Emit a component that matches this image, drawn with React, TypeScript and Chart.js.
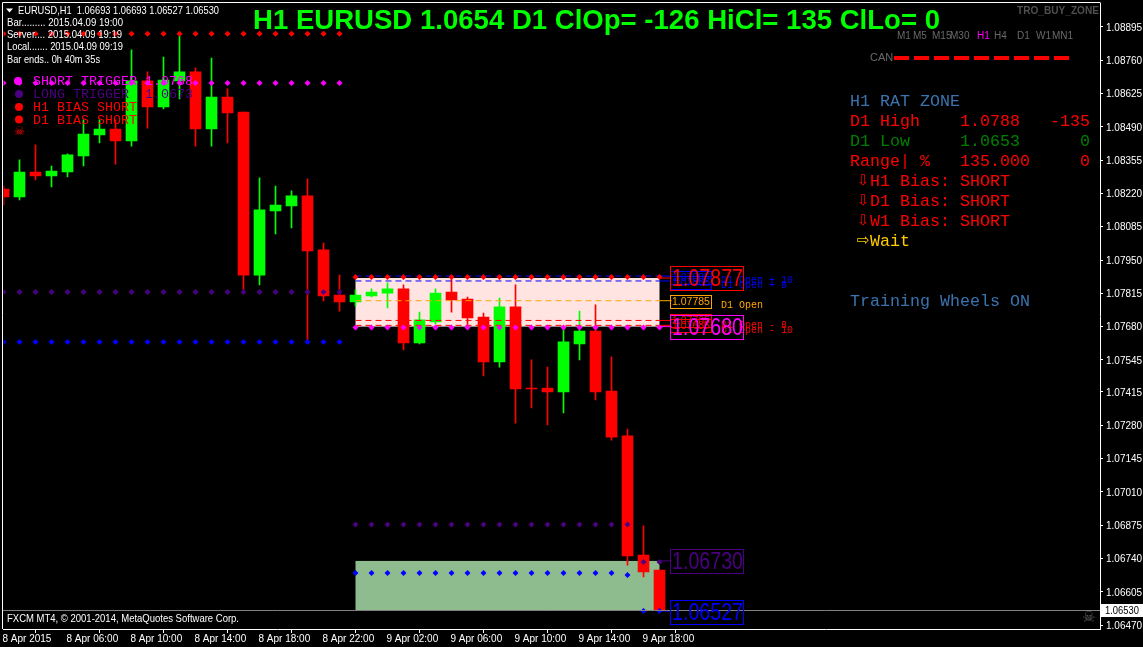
import React, { useEffect, useRef } from "react";
import { Chart, registerables } from "chart.js";

Chart.register(...registerables);

const opens = [1.08238,1.08206,1.08307,1.08291,1.08307,1.08372,1.08457,1.08481,1.08433,1.08676,1.08571,1.08676,1.08713,1.08481,1.08611,1.08550,1.07889,1.08149,1.08169,1.08210,1.07991,1.07808,1.07780,1.07804,1.07816,1.07833,1.07614,1.07699,1.07820,1.07792,1.07719,1.07537,1.07760,1.07431,1.07431,1.07415,1.07610,1.07662,1.07419,1.07237,1.06754,1.06693];
const highs = [1.08250,1.08356,1.08417,1.08331,1.08380,1.08518,1.08518,1.08518,1.08802,1.08713,1.08773,1.08859,1.08729,1.08769,1.08644,1.08550,1.08283,1.08250,1.08230,1.08279,1.08019,1.07889,1.07829,1.07833,1.07857,1.07849,1.07739,1.07833,1.07877,1.07800,1.07735,1.07796,1.07849,1.07545,1.07516,1.07674,1.07743,1.07768,1.07557,1.07265,1.06872,1.06693];
const lows = [1.08173,1.08194,1.08275,1.08246,1.08287,1.08331,1.08425,1.08339,1.08412,1.08485,1.08563,1.08603,1.08412,1.08412,1.08425,1.07829,1.07849,1.08056,1.08080,1.07626,1.07784,1.07743,1.07764,1.07800,1.07756,1.07585,1.07610,1.07691,1.07739,1.07674,1.07480,1.07516,1.07289,1.07350,1.07281,1.07330,1.07545,1.07383,1.07220,1.06713,1.06665,1.06527];
const closes = [1.08206,1.08307,1.08291,1.08311,1.08376,1.08461,1.08481,1.08433,1.08676,1.08571,1.08680,1.08713,1.08481,1.08611,1.08546,1.07889,1.08153,1.08173,1.08210,1.07987,1.07804,1.07780,1.07808,1.07820,1.07833,1.07614,1.07707,1.07816,1.07788,1.07715,1.07537,1.07760,1.07427,1.07427,1.07415,1.07618,1.07662,1.07415,1.07232,1.06750,1.06685,1.06530];

const redDots = [1.08867,1.08867,1.08867,1.08867,1.08867,1.08867,1.08867,1.08867,1.08867,1.08867,1.08867,1.08867,1.08867,1.08867,1.08867,1.08867,1.08867,1.08867,1.08867,1.08867,1.08867,1.08867,1.07881,1.07881,1.07881,1.07881,1.07881,1.07881,1.07881,1.07881,1.07881,1.07881,1.07881,1.07881,1.07881,1.07881,1.07881,1.07881,1.07881,1.07881,1.07881,1.07881];
const magentaDots = [1.08668,1.08668,1.08668,1.08668,1.08668,1.08668,1.08668,1.08668,1.08668,1.08668,1.08668,1.08668,1.08668,1.08668,1.08668,1.08668,1.08668,1.08668,1.08668,1.08668,1.08668,1.08668,1.07676,1.07676,1.07676,1.07676,1.07676,1.07676,1.07676,1.07676,1.07676,1.07676,1.07676,1.07676,1.07676,1.07676,1.07676,1.07676,1.07676,1.07676,1.07676,1.07676];
const purpleDots = [1.07820,1.07820,1.07820,1.07820,1.07820,1.07820,1.07820,1.07820,1.07820,1.07820,1.07820,1.07820,1.07820,1.07820,1.07820,1.07820,1.07820,1.07820,1.07820,1.07820,1.07820,1.07820,1.06878,1.06878,1.06878,1.06878,1.06878,1.06878,1.06878,1.06878,1.06878,1.06878,1.06878,1.06878,1.06878,1.06878,1.06878,1.06878,1.06878,1.06878,1.06726,1.06726];
const blueDots = [1.07618,1.07618,1.07618,1.07618,1.07618,1.07618,1.07618,1.07618,1.07618,1.07618,1.07618,1.07618,1.07618,1.07618,1.07618,1.07618,1.07618,1.07618,1.07618,1.07618,1.07618,1.07618,1.06681,1.06681,1.06681,1.06681,1.06681,1.06681,1.06681,1.06681,1.06681,1.06681,1.06681,1.06681,1.06681,1.06681,1.06681,1.06681,1.06681,1.06673,1.06527,1.06527];

const yTickValues = [1.08895,1.0876,1.08625,1.0849,1.08355,1.0822,1.08085,1.0795,1.07815,1.0768,1.07545,1.07415,1.0728,1.07145,1.0701,1.06875,1.0674,1.06605,1.0647];
const xTickIndexes = [0,4,8,12,16,20,24,28,32,36,40];
const xTickLabels = ["8 Apr 2015","8 Apr 06:00","8 Apr 10:00","8 Apr 14:00","8 Apr 18:00","8 Apr 22:00","9 Apr 02:00","9 Apr 06:00","9 Apr 10:00","9 Apr 14:00","9 Apr 18:00"];

const zoneLevels = [1.07885,1.07865,1.07785,1.07705,1.07685];
const zoneColors = ["#0000ff","#0000ff","#ffa500","#ff0000","#ff0000"];
const bigLevels = [1.07877,1.0768,1.0673,1.06527];
const bigColors = ["#ff0000","#ff00ff","#4b0082","#0000ff"];
const currentPrice = 1.0653;

const panelRows: [string, string, number, number][] = [
  ["H1 RAT ZONE", "#3a74b0", 850, 102],
  ["D1 High", "#ff0000", 850, 122],
  ["1.0788", "#ff0000", 960, 122],
  ["-135", "#ff0000", 1050, 122],
  ["D1 Low", "#008000", 850, 142],
  ["1.0653", "#008000", 960, 142],
  ["0", "#008000", 1080, 142],
  ["Range| %", "#ff0000", 850, 162],
  ["135.000", "#ff0000", 960, 162],
  ["0", "#ff0000", 1080, 162],
  ["H1 Bias: SHORT", "#ff0000", 870, 182],
  ["D1 Bias: SHORT", "#ff0000", 870, 202],
  ["W1 Bias: SHORT", "#ff0000", 870, 222],
  ["Wait", "#ffcc00", 870, 242],
  ["Training Wheels ON", "#3a74b0", 850, 302],
];
const timeframes: [string, number, string][] = [
  ["M1", 897, "#696969"],["M5", 913, "#696969"],["M15", 932, "#696969"],["M30", 950, "#696969"],
  ["H1", 977, "#ff00ff"],["H4", 994, "#696969"],["D1", 1017, "#696969"],["W1", 1036, "#696969"],["MN1", 1052, "#696969"],
];
const infoRows: [string, number, number][] = [
  ["Bar......... 2015.04.09 19:00", 23, 116],
  ["Server.... 2015.04.09 19:19", 35, 115],
  ["Local....... 2015.04.09 09:19", 47, 116],
  ["Bar ends.. 0h 40m 35s", 60, 93],
];
const legendRows: [string, string, number][] = [
  ["SHORT TRIGGER 1.0768", "#ff00ff", 81],
  ["LONG TRIGGER  1.0673", "#4b0082", 94],
  ["H1 BIAS SHORT", "#ff0000", 107],
  ["D1 BIAS SHORT", "#ff0000", 120],
];

const SANS = '"Liberation Sans"';
const MONO = '"Liberation Mono"';
const GLYPH = '"DejaVu Sans"';

function text(ctx: CanvasRenderingContext2D, s: string, x: number, y: number, font: string, color: string, maxW?: number) {
  ctx.font = font;
  ctx.fillStyle = color;
  ctx.textAlign = "left";
  ctx.textBaseline = "middle";
  if (maxW) ctx.fillText(s, x, y, maxW);
  else ctx.fillText(s, x, y);
}

const backdrop = {
  id: "backdrop",
  beforeDraw(chart: any) {
    const { ctx, width, height } = chart;
    ctx.save();
    ctx.fillStyle = "#000000";
    ctx.fillRect(0, 0, width, height);
    ctx.restore();
  },
  beforeDatasetsDraw(chart: any) {
    const { ctx, scales } = chart;
    const x = scales.x, y = scales.y;
    const l = x.getPixelForValue(22), r = x.getPixelForValue(41);
    ctx.save();
    ctx.fillStyle = "#ffe4e1";
    ctx.fillRect(l, y.getPixelForValue(bigLevels[0]), r - l, y.getPixelForValue(bigLevels[1]) - y.getPixelForValue(bigLevels[0]));
    ctx.fillStyle = "#8fbc8f";
    ctx.fillRect(l, y.getPixelForValue(bigLevels[2]), r - l, y.getPixelForValue(bigLevels[3]) - y.getPixelForValue(bigLevels[2]));
    ctx.restore();
  },
};

const overlay = {
  id: "overlay",
  afterDraw(chart: any) {
    const { ctx, scales, chartArea } = chart;
    const y = scales.y;
    ctx.save();

    // frame
    ctx.strokeStyle = "#ffffff";
    ctx.lineWidth = 1;
    ctx.beginPath();
    ctx.moveTo(2.5, 629);
    ctx.lineTo(2.5, 2.5);
    ctx.lineTo(chartArea.right + 0.5, 2.5);
    ctx.stroke();

    // current price line
    const py = Math.round(y.getPixelForValue(currentPrice)) + 0.5;
    ctx.strokeStyle = "#808080";
    ctx.beginPath();
    ctx.moveTo(3, py);
    ctx.lineTo(chartArea.right, py);
    ctx.stroke();
    ctx.fillStyle = "#ffffff";
    ctx.fillRect(1101, py - 6.5, 42, 13);
    text(ctx, "1.06530", 1105, py + 0.5, `10px ${SANS}`, "#000000", 34);
    text(ctx, "\u2620", 1082, py + 8, `15px ${GLYPH}`, "#5a5a5a");

    // chart header
    ctx.fillStyle = "#ffffff";
    ctx.beginPath();
    ctx.moveTo(6, 8.5);
    ctx.lineTo(13, 8.5);
    ctx.lineTo(9.5, 12.5);
    ctx.closePath();
    ctx.fill();
    text(ctx, "EURUSD,H1  1.06693 1.06693 1.06527 1.06530", 18, 10.5, `11px ${SANS}`, "#ffffff", 201);
    for (const [s, ry, w] of infoRows) text(ctx, s, 7, ry, `11px ${SANS}`, "#ffffff", w);

    // title
    text(ctx, "H1 EURUSD 1.0654 D1 ClOp= -126 HiCl= 135 ClLo= 0", 253, 21, `bold 27.6px ${SANS}`, "#00ff00", 687);
    text(ctx, "TRO_BUY_ZONE", 1017, 11, `bold 10.5px ${SANS}`, "#505050", 82);

    // timeframes and CAN row
    for (const [s, tx, c] of timeframes) text(ctx, s, tx, 36, `10px ${SANS}`, c);
    text(ctx, "CAN", 870, 58, `11px ${SANS}`, "#696969");
    ctx.strokeStyle = "#ff0000";
    ctx.lineWidth = 4;
    ctx.setLineDash([15, 5]);
    ctx.beginPath();
    ctx.moveTo(894, 58);
    ctx.lineTo(1069, 58);
    ctx.stroke();
    ctx.setLineDash([]);
    ctx.lineWidth = 1;

    // right panel
    for (const [s, c, tx, ty] of panelRows) text(ctx, s, tx, ty, `16.67px ${MONO}`, c);
    for (const ty of [182, 202, 222]) text(ctx, "\u21E9", 857, ty - 1, `15px ${GLYPH}`, "#ff0000");
    text(ctx, "\u21E8", 857, 241, `15px ${GLYPH}`, "#ffcc00");

    // left legend
    ctx.fillStyle = "#ff00ff";
    ctx.beginPath(); ctx.arc(18, 81, 4, 0, Math.PI * 2); ctx.fill();
    ctx.fillStyle = "#4b0082";
    ctx.beginPath(); ctx.arc(19, 94, 4, 0, Math.PI * 2); ctx.fill();
    ctx.fillStyle = "#ff0000";
    ctx.beginPath(); ctx.arc(19, 107, 4, 0, Math.PI * 2); ctx.fill();
    ctx.beginPath(); ctx.arc(19, 119.5, 4, 0, Math.PI * 2); ctx.fill();
    for (const [s, c, ry] of legendRows) text(ctx, s, 33, ry, `13.33px ${MONO}`, c);
    text(ctx, "\u2620", 14, 132, `12px ${GLYPH}`, "#ff0000");

    // small level labels
    const smallFont = `10.5px ${SANS}`;
    for (let i = 0; i < zoneLevels.length; i++) {
      if (i === 2) continue;
      const ly = y.getPixelForValue(zoneLevels[i]);
      const by = i < 2 ? ly + 1 : ly;
      ctx.strokeStyle = zoneColors[i];
      ctx.strokeRect(670.5, Math.round(by - 6) + 0.5, 41, 13);
      text(ctx, zoneLevels[i].toFixed(5), 672, by + 1, smallFont, zoneColors[i], 38);
    }
    text(ctx, "D1 Open + 10", 721, 280, `10px ${MONO}`, "#0000ff");
    text(ctx, "D1 Open + 8", 721, 285, `10px ${MONO}`, "#0000ff");
    text(ctx, "D1 Open - 8", 721, 325, `10px ${MONO}`, "#ff0000");
    text(ctx, "D1 Open - 10", 721, 330, `10px ${MONO}`, "#ff0000");

    // D1 open label
    const oy = Math.round(y.getPixelForValue(zoneLevels[2]));
    ctx.strokeStyle = "#ffa500";
    ctx.strokeRect(670.5, oy - 5.5, 41, 13);
    text(ctx, "1.07785", 672, oy + 1, smallFont, "#ffa500", 38);
    text(ctx, "D1 Open", 721, oy + 4, `10px ${MONO}`, "#ffa500");

    // big level labels
    for (let i = 0; i < bigLevels.length; i++) {
      const ly = Math.round(y.getPixelForValue(bigLevels[i])) + (i === 3 ? 1 : 0);
      ctx.strokeStyle = bigColors[i];
      ctx.strokeRect(670.5, ly - 11.5, 73, 24);
      text(ctx, bigLevels[i].toFixed(5), 672, ly + 1, `24px ${SANS}`, bigColors[i], 71);
    }

    text(ctx, "FXCM MT4, \u00A9 2001-2014, MetaQuotes Software Corp.", 7, 619, `11px ${SANS}`, "#ffffff", 232);
    ctx.restore();
  },
};

export default function App() {
  const ref = useRef<HTMLCanvasElement | null>(null);
  useEffect(() => {
    if (!ref.current) return;
    const idx = opens.map((_, i) => i);
    const col = idx.map((i) => (closes[i] >= opens[i] ? "#00ff00" : "#ff0000"));
    const dots = (values: number[], color: string) => ({
      type: "line" as const,
      data: idx.map((i) => ({ x: i, y: values[i] })),
      showLine: false,
      pointStyle: "rectRot",
      pointRadius: 3,
      pointBackgroundColor: color,
      pointBorderColor: color,
      pointBorderWidth: 0,
      order: 1,
    });
    const levelDash = zoneLevels.map((v, i) => ({
      type: "line" as const,
      data: [{ x: 22, y: v }, { x: 41, y: v }],
      borderColor: zoneColors[i],
      borderWidth: 1,
      borderDash: [6, 4],
      pointRadius: 0,
      order: 2,
    }));
    const connectors = [...zoneLevels, ...bigLevels].map((v, i) => ({
      type: "line" as const,
      data: [{ x: 41, y: v }, { x: 41.75, y: v }],
      borderColor: [...zoneColors, ...bigColors][i],
      borderWidth: 1,
      pointRadius: 0,
      order: 2,
    }));
    const chart = new Chart(ref.current, {
      type: "bar",
      data: {
        datasets: [
          {
            label: "wicks",
            data: idx.map((i) => ({ x: i, y: [lows[i], highs[i]] })),
            backgroundColor: col,
            barThickness: 1,
            grouped: false,
            order: 5,
          },
          {
            label: "bodies",
            data: idx.map((i) => ({ x: i, y: [opens[i], closes[i]] })),
            backgroundColor: col,
            barThickness: 11,
            grouped: false,
            order: 4,
          },
          dots(redDots, "#ff0000"),
          dots(magentaDots, "#ff00ff"),
          dots(purpleDots, "#4b0082"),
          dots(blueDots, "#0000ff"),
          ...levelDash,
          ...connectors,
        ] as any,
      },
      options: {
        responsive: false,
        animation: false,
        events: [],
        layout: { autoPadding: false, padding: { left: 3.5, top: 3, right: 0, bottom: 0 } },
        plugins: { legend: { display: false }, tooltip: { enabled: false }, title: { display: false } },
        scales: {
          x: {
            type: "linear",
            min: 0,
            max: 68.53,
            offset: false,
            grid: { display: true, drawOnChartArea: false, drawTicks: true, tickLength: 4, color: "#ffffff" },
            border: { color: "#ffffff", width: 1 },
            afterBuildTicks: (s: any) => { s.ticks = xTickIndexes.map((value) => ({ value })); },
            afterFit: (s: any) => { s.height = 18; s.paddingLeft = 0; s.paddingRight = 0; },
            ticks: {
              autoSkip: false,
              maxRotation: 0,
              minRotation: 0,
              align: "start",
              padding: 0,
              labelOffset: -1,
              color: "#ffffff",
              font: { family: "Liberation Sans", size: 10 },
              callback: (v: any) => xTickLabels[xTickIndexes.indexOf(Number(v))] ?? "",
            },
          },
          y: {
            type: "linear",
            position: "right",
            min: 1.06454,
            max: 1.08992,
            grid: { display: true, drawOnChartArea: false, drawTicks: true, tickLength: 3, color: "#ffffff" },
            border: { color: "#ffffff", width: 1 },
            afterBuildTicks: (s: any) => { s.ticks = yTickValues.map((value) => ({ value })); },
            afterFit: (s: any) => { s.width = 43; s.paddingTop = 0; s.paddingBottom = 0; },
            ticks: {
              autoSkip: false,
              padding: 3,
              labelOffset: 1,
              color: "#ffffff",
              font: { family: "Liberation Sans", size: 10 },
              callback: (v: any) => Number(v).toFixed(5),
            },
          },
        },
      },
      plugins: [backdrop, overlay],
    } as any);
    return () => chart.destroy();
  }, []);
  return (
    <canvas
      ref={ref}
      width={1143}
      height={647}
      style={{ position: "fixed", left: 0, top: 0, width: 1143, height: 647, display: "block" }}
    />
  );
}
